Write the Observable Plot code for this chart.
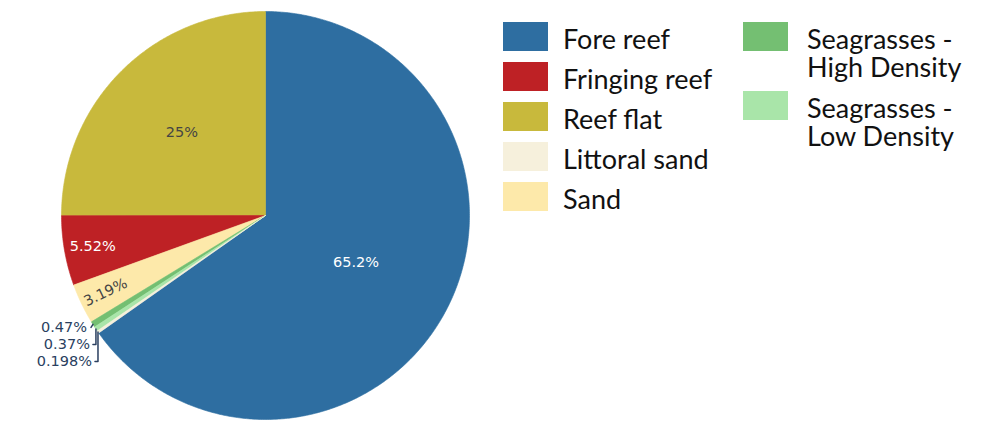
<!DOCTYPE html>
<html><head><meta charset="utf-8">
<script src="https://cdn.jsdelivr.net/npm/d3@7"></script>
<script src="https://cdn.jsdelivr.net/npm/@observablehq/plot@0.6"></script>
<style>
html,body{margin:0;padding:0;background:#fff;}
#wrap{position:relative;width:1001px;height:422px;overflow:hidden;}
#legend{position:absolute;left:0;top:0;width:1001px;height:422px;font-family:Lato,"Noto Sans",sans-serif;color:#111;}
.sw{position:absolute;width:45px;height:29px;}
.lt{position:absolute;font-size:27px;line-height:27px;white-space:nowrap;}
</style></head><body><div id="wrap"><div id="chart"></div><div id="legend"></div></div>
<script>
const categories = ["Fore reef","Fringing reef","Reef flat","Littoral sand","Sand","Seagrasses - High Density","Seagrasses - Low Density"];
const percents = [65.2, 5.52, 25, 0.198, 3.19, 0.47, 0.37];
const percentLabels = ["65.2%","5.52%","25%","0.198%","3.19%","0.47%","0.37%"];
const colors = ["#2e6ea1","#be2125","#c8b93c","#f6f0dc","#fde9aa","#74bf72","#a9e5a9"];
const legendLines = [["Fore reef"],["Fringing reef"],["Reef flat"],["Littoral sand"],["Sand"],["Seagrasses -","High Density"],["Seagrasses -","Low Density"]];

const rows = categories.map((c,i)=>({cat:c, value:percents[i], label:percentLabels[i], idx:i}));
const total = d3.sum(percents);
const sorted = rows.slice().sort((a,b)=>b.value-a.value);
const F = sorted[0].value/total*2*Math.PI;
const arcs = d3.pie().value(d=>d.value).sort(null).startAngle(F).endAngle(F-2*Math.PI)(sorted);

// slice polygons
const pts = [];
arcs.forEach(a=>{
  const n = Math.max(2, Math.ceil(Math.abs(a.endAngle-a.startAngle)/(Math.PI/360)));
  pts.push({cat:a.data.cat, x:0, y:0});
  for(let k=0;k<=n;k++){
    const t = a.startAngle + (a.endAngle-a.startAngle)*k/n;
    pts.push({cat:a.data.cat, x:Math.sin(t), y:Math.cos(t)});
  }
  pts.push({cat:a.data.cat, x:0, y:0});
});

const R = 204; // px per unit (from scale range)
const inside = [], outside = [];
arcs.forEach(a=>{
  const frac = a.data.value/total;
  const mid = (a.startAngle+a.endAngle)/2;
  if(frac < 0.01){ outside.push({a, mid}); return; }
  const d = frac>=0.5 ? 0.5 : frac>=0.1 ? 0.58 : (frac>=0.04 ? 0.86 : 0.87);
  let rot = 0;
  if(frac < 0.04){
    rot = Math.atan2(-Math.cos(mid), Math.sin(mid))*180/Math.PI;
    if(rot>90) rot-=180; if(rot<-90) rot+=180;
  }
  const dark = d3.lab(colors[a.data.idx]).l < 60;
  inside.push({x:Math.sin(mid)*d, y:Math.cos(mid)*d, text:a.data.label, rot, dark});
});
const outLabels = [], leader = [];
const y0 = outside.length ? Math.cos(outside[0].mid) : 0;
outside.forEach((o,i)=>{
  const ex = Math.sin(o.mid), ey = Math.cos(o.mid);
  const ly = y0 - (3 + 17*i)/R;
  outLabels.push({x: ex - 6/R, y: ly, text:o.a.data.label});
  if(i===0){
    leader.push({g:i,x:ex,y:ey},{g:i,x:ex-2/R,y:ly});
  } else {
    leader.push({g:i,x:ex,y:ey},{g:i,x:ex,y:ly},{g:i,x:ex-3/R,y:ly});
  }
});

const chart = Plot.plot({
  width:1001, height:422, margin:0,
  style:{background:"transparent"},
  x:{domain:[-1,1], range:[61,469], axis:null},
  y:{domain:[-1,1], range:[419,11], axis:null},
  color:{domain:categories, range:colors},
  marks:[
    Plot.line(pts,{x:"x",y:"y",z:"cat",fill:"cat",stroke:"cat",strokeWidth:0.6,curve:"linear"}),
    Plot.text(inside.filter(d=>d.dark),{x:"x",y:"y",text:"text",rotate:"rot",fill:"white",fontSize:14.5,fontFamily:"DejaVu Sans"}),
    Plot.text(inside.filter(d=>!d.dark),{x:"x",y:"y",text:"text",rotate:"rot",fill:"#444",fontSize:14.5,fontFamily:"DejaVu Sans"}),
    Plot.line(leader,{x:"x",y:"y",z:"g",stroke:"#2a3f5f",strokeWidth:1.5}),
    Plot.text(outLabels,{x:"x",y:"y",text:"text",textAnchor:"end",fill:"#2a3f5f",fontSize:14.5,fontFamily:"DejaVu Sans"})
  ]
});
document.getElementById("chart").appendChild(chart);

// legend
const leg = document.getElementById("legend");
let col2y = 21.5;
categories.forEach((c,i)=>{
  const col = i<5?0:1;
  const top = col===0 ? 21.5 + 40*i : col2y;
  const sw = document.createElement("div");
  sw.className="sw";
  sw.style.left = (col===0?503:743)+"px";
  sw.style.top = top+"px";
  sw.style.background = colors[i];
  leg.appendChild(sw);
  legendLines[i].forEach((line,j)=>{
    const t = document.createElement("div");
    t.className="lt";
    t.style.left = (col===0?563:807)+"px";
    t.style.top = (top+3+28.4*j)+"px";
    t.textContent = line;
    leg.appendChild(t);
  });
  if(col===1) col2y += 69;
});
</script></body></html>
